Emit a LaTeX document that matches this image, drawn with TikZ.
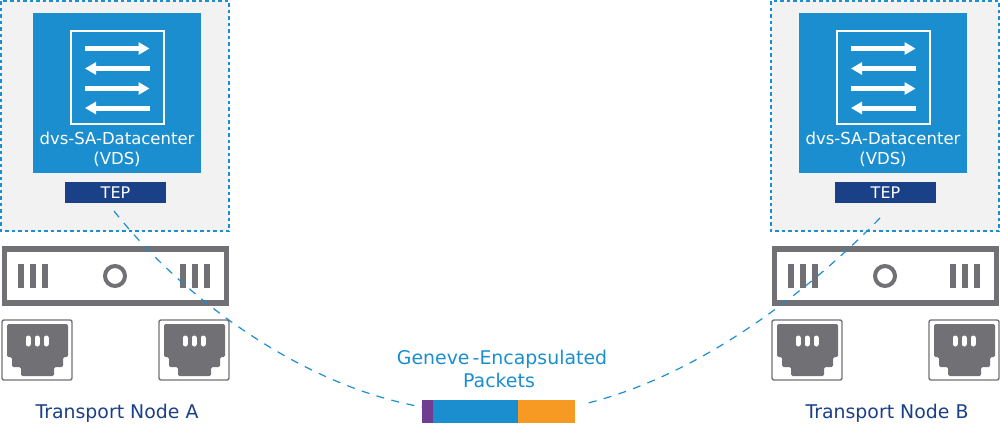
\documentclass[tikz,border=0pt]{standalone}
\usepackage{fontspec}
\setmainfont{DejaVu Sans}
\usetikzlibrary{arrows.meta}
\definecolor{vdsblue}{HTML}{1B8ECF}
\definecolor{tepblue}{HTML}{1A4088}
\definecolor{hostgray}{HTML}{717074}
\definecolor{hostfill}{HTML}{F2F2F2}
\definecolor{pktpurple}{HTML}{6F3E91}
\definecolor{pktorange}{HTML}{F79A24}
\tikzset{
  box/.style={inner sep=0pt,outer sep=0pt},
  hostbox/.style={box,minimum width=228pt,minimum height=230pt,fill=hostfill},
  hostline/.style={vdsblue,line width=1.2pt,dash pattern=on 3.5pt off 3pt},
  vdsbox/.style={box,minimum width=168pt,minimum height=160pt,fill=vdsblue},
  iconbox/.style={box,minimum width=93pt,minimum height=93pt,draw=white,line width=2.5pt},
  tepbox/.style={box,minimum width=101pt,minimum height=21pt,fill=tepblue,text=white,font=\fontsize{16}{18}\selectfont},
  serverbox/.style={box,minimum width=222pt,minimum height=54pt,draw=hostgray,line width=5.5pt},
  portbox/.style={box,minimum width=70pt,minimum height=60pt,draw=hostgray,line width=1.4pt,rounded corners=2pt},
  flow/.style={white,line width=5pt,-{Triangle[length=11pt,width=12pt]}},
  bar/.style={fill=hostgray},
  jack/.style={fill=hostgray,rounded corners=1.5pt},
  pin/.style={white,line width=5pt,line cap=round},
  vdslabel/.style={box,align=center,text=white,font=\fontsize{16.5}{20}\selectfont},
  label/.style={box,align=center,font=\fontsize{18.9}{23}\selectfont},
  tunnel/.style={vdsblue,line width=1.2pt,dash pattern=on 8pt off 7.5pt},
  pkt/.style={box,minimum height=23pt}
}
\begin{document}
\begin{tikzpicture}[x=1pt,y=-1pt]
\useasboundingbox (0,0) rectangle (1000,424);
% Both transport nodes
\foreach \name/\dx/\vx in {A/0/0,B/770/766} {
  % Dashed host area, VDS and TEP
  \node[hostbox] (host\name) at (115+\dx,116) {};
  \draw[hostline] (host\name.north west) rectangle (host\name.south east);
  \node[vdsbox] (vds\name) at (117+\vx,93) {};
  \node[iconbox] (icon\name) at (117.5+\vx,77.5) {};
  \foreach \y in {48.5,88.5} {
    \draw[flow] (85+\vx,\y) -- (149.5+\vx,\y);
  }
  \foreach \y in {68.5,108} {
    \draw[flow] (149.5+\vx,\y) -- (85+\vx,\y);
  }
  \node[vdslabel] (vdstext\name) at (117+\vx,149) {dvs-SA-Datacenter\\(VDS)};
  \node[tepbox] (tep\name) at (115.5+\dx,192.5) {TEP};
  % Server
  \node[serverbox] (server\name) at (115.5+\dx,276) {};
  \foreach \x in {18,30,42,180,192,204} {
    \fill[bar] (\x+\dx,264) rectangle +(6,24);
  }
  \draw[hostgray,line width=4pt] (115+\dx,276) circle (10);
  % Network ports
  \foreach \px/\pname in {0/l,157/r} {
    \node[portbox] (port\name\pname) at (37+\dx+\px,350) {};
    \fill[jack] (7+\dx+\px,324) -- (68+\dx+\px,324) -- (68+\dx+\px,357) -- (63+\dx+\px,357) -- (63+\dx+\px,367)
      -- (54+\dx+\px,367) -- (54+\dx+\px,376) -- (21+\dx+\px,376) -- (21+\dx+\px,367) -- (12+\dx+\px,367)
      -- (12+\dx+\px,357) -- (7+\dx+\px,357) -- cycle;
    \foreach \x in {28,37,46} {
      \draw[pin] (\x+\dx+\px,338) -- (\x+\dx+\px,344);
    }
  }
  \node[label,text=tepblue] (title\name) at (117+\dx,413) {Transport Node \name};
}
% Packet
\node[pkt,fill=pktpurple,minimum width=11pt] (pktA) at (427.5,411) {};
\node[pkt,fill=vdsblue,minimum width=85pt] (pktB) at (475.5,411) {};
\node[pkt,fill=pktorange,minimum width=57pt] (pktC) at (546.5,411) {};
\node[label,text=vdsblue,anchor=base] (pkttext) at (502,364) {Geneve\,-Encapsulated};
\node[label,text=vdsblue,anchor=base] (pktname) at (499,387) {Packets};
% Tunnel between the TEPs
\coordinate (tunnelA) at (114,211);
\coordinate (tunnelB) at (880,218);
\coordinate (tunnelC) at (422,407);
\coordinate (tunnelD) at (584,404);
\draw[tunnel] (tunnelA) .. controls (183,298) and (300,385) .. (tunnelC);
\draw[tunnel] (tunnelB) .. controls (810,290) and (700,376) .. (tunnelD);
\end{tikzpicture}
\end{document}
